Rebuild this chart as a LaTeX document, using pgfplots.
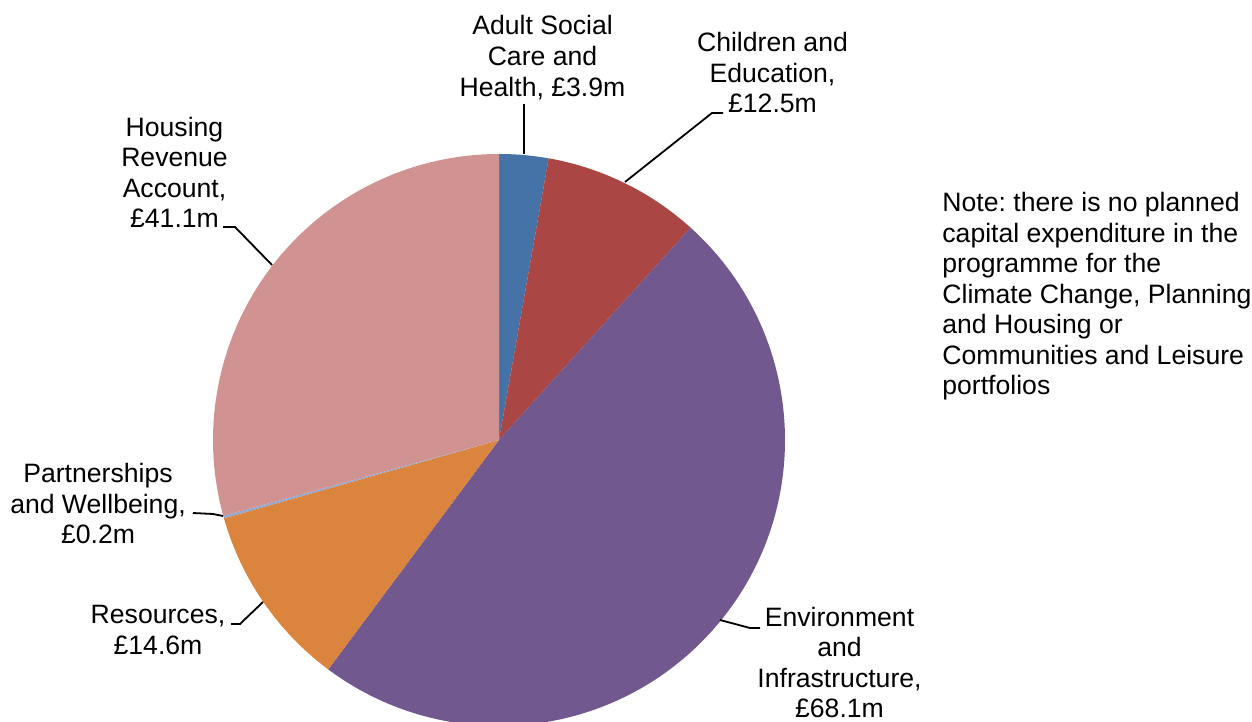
\documentclass[border=0pt]{standalone}
\usepackage{fontspec}
\setmainfont{Liberation Sans}
\usepackage{pgfplots}
\pgfplotsset{compat=1.18}
\frenchspacing
\definecolor{cASC}{HTML}{4572A7}
\definecolor{cCE}{HTML}{AA4643}
\definecolor{cEI}{HTML}{71588F}
\definecolor{cRes}{HTML}{DB843D}
\definecolor{cPW}{HTML}{93A9CF}
\definecolor{cHRA}{HTML}{D19392}
% values in GBP m (clockwise from 12 o'clock)
\def\vASC{3.9}
\def\vCE{12.5}
\def\vEI{68.1}
\def\vRes{14.6}
\def\vPW{0.2}
\def\vHRA{41.1}
\pgfmathsetmacro\tot{\vASC+\vCE+\vEI+\vRes+\vPW+\vHRA}
\pgfmathsetmacro\aA{90}
\pgfmathsetmacro\aB{\aA-\vASC/\tot*360}
\pgfmathsetmacro\aC{\aB-\vCE/\tot*360}
\pgfmathsetmacro\aD{\aC-\vEI/\tot*360}
\pgfmathsetmacro\aE{\aD-\vRes/\tot*360}
\pgfmathsetmacro\aF{\aE-\vPW/\tot*360}
\pgfmathsetmacro\aG{\aF-\vHRA/\tot*360}
\newcommand\slice[3]{\fill[#3] (axis cs:499,282) -- ++(#1:143pt) arc[start angle=#1, end angle=#2, radius=143pt] -- cycle;}
\newcommand\lbl[3]{\node[anchor=base, inner sep=0pt] at (axis cs:#1,#2) {#3};}
\newcommand\lbll[3]{\node[anchor=base west, inner sep=0pt] at (axis cs:#1,#2) {#3};}
\begin{document}
\begin{tikzpicture}[font=\fontsize{13.3}{15.35}\selectfont\frenchspacing]
\begin{axis}[
  scale only axis, width=626pt, height=361pt,
  xmin=0, xmax=1252, ymin=0, ymax=722,
  hide axis, clip=true]
\slice{\aA}{\aB}{cASC}
\slice{\aB}{\aC}{cCE}
\slice{\aC}{\aD}{cEI}
\slice{\aD}{\aE}{cRes}
\slice{\aE}{\aF}{cPW}
\slice{\aF}{\aG}{cHRA}
% leader lines
\draw[line width=0.9pt] (axis cs:524,618) -- (axis cs:524,568);
\draw[line width=0.9pt] (axis cs:625,540) -- (axis cs:712,609) -- (axis cs:723,609);
\draw[line width=0.9pt] (axis cs:223,495) -- (axis cs:235,495) -- (axis cs:272,457);
\draw[line width=0.9pt] (axis cs:193,209) -- (axis cs:213,208) -- (axis cs:223,206);
\draw[line width=0.9pt] (axis cs:231,98) -- (axis cs:240,98) -- (axis cs:263,120);
\draw[line width=0.9pt] (axis cs:720,102) -- (axis cs:750,94) -- (axis cs:760,94);
% labels
\lbl{542.5}{687}{Adult Social}
\lbl{542.5}{656}{Care and}
\lbl{542.5}{625}{Health, £3.9m}
\lbl{772.5}{670}{Children and}
\lbl{772.5}{639.5}{Education,}
\lbl{772.5}{609}{£12.5m}
\lbl{174.5}{585}{Housing}
\lbl{174.5}{555}{Revenue}
\lbl{174.5}{524.5}{Account,}
\lbl{174.5}{494}{£41.1m}
\lbl{98}{239}{Partnerships}
\lbl{98}{208.5}{and Wellbeing,}
\lbl{98}{178}{£0.2m}
\lbl{158}{98}{Resources,}
\lbl{158}{67}{£14.6m}
\lbl{839.5}{95}{Environment}
\lbl{839.5}{65}{and}
\lbl{839.5}{34.5}{Infrastructure,}
\lbl{839.5}{4}{£68.1m}
\lbll{942}{510}{Note: there is no planned}
\lbll{942}{479}{capital expenditure in the}
\lbll{942}{449}{programme for the}
\lbll{942}{418}{Climate Change, Planning}
\lbll{942}{388}{and Housing or}
\lbll{942}{357}{Communities and Leisure}
\lbll{942}{327}{portfolios}
\end{axis}
\pgfresetboundingbox
\useasboundingbox (current axis.south west) rectangle (current axis.north east);
\end{tikzpicture}
\end{document}
